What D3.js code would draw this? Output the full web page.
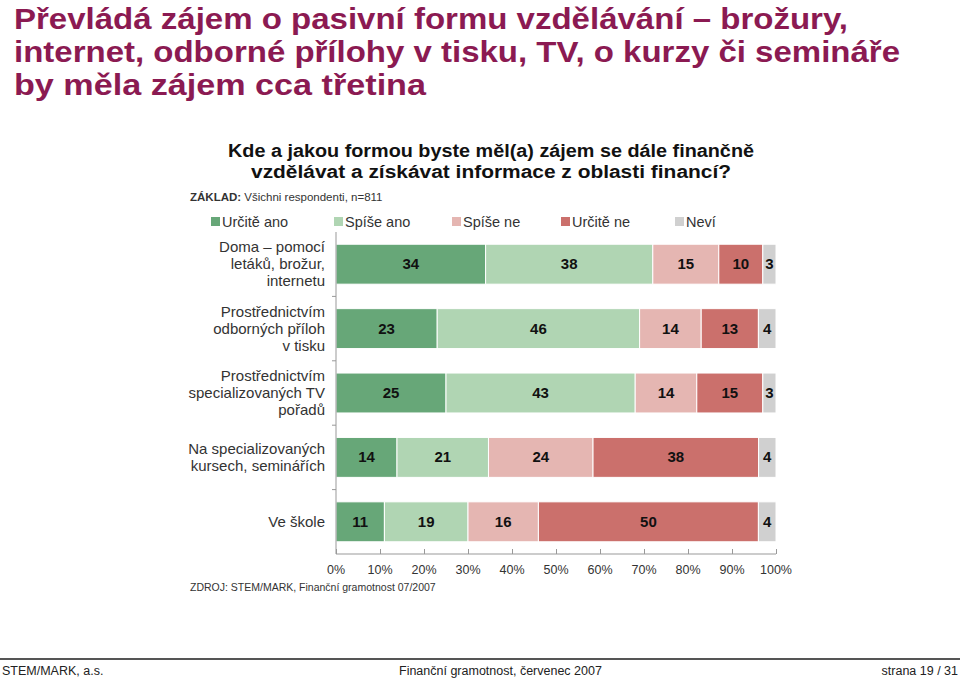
<!DOCTYPE html>
<html><head><meta charset="utf-8">
<script src="https://cdn.jsdelivr.net/npm/d3@7"></script>
<style>
html,body{margin:0;padding:0;background:#fff;}
svg{display:block;font-family:"Liberation Sans",Arial,sans-serif;}
</style></head>
<body>
<svg id="c" width="960" height="678"></svg>
<script>
const titleLines = ["Převládá zájem o pasivní formu vzdělávání – brožury,",
  "internet, odborné přílohy v tisku, TV, o kurzy či semináře",
  "by měla zájem cca třetina"];
const subtitleLines = ["Kde a jakou formou byste měl(a) zájem se dále finančně",
  "vzdělávat a získávat informace z oblasti financí?"];
const categories = [
  ["Doma – pomocí","letáků, brožur,","internetu"],
  ["Prostřednictvím","odborných příloh","v tisku"],
  ["Prostřednictvím","specializovaných TV","pořadů"],
  ["Na specializovaných","kursech, seminářích"],
  ["Ve škole"]
];
const seriesNames = ["Určitě ano","Spíše ano","Spíše ne","Určitě ne","Neví"];
const urciteAno = [34,23,25,14,11];
const spiseAno  = [38,46,43,21,19];
const spiseNe   = [15,14,14,24,16];
const urciteNe  = [10,13,15,38,50];
const nevi      = [3,4,3,4,4];
const colors = ["#67a778","#b0d5b3","#e5b6b2","#cb706c","#d0d0d0"];
const tickValues = [0,0.1,0.2,0.3,0.4,0.5,0.6,0.7,0.8,0.9,1];

const svg = d3.select("#c");
const catKeys = categories.map(c=>c.join(" "));
const rows = catKeys.map((k,i)=>({key:k,"Určitě ano":urciteAno[i],"Spíše ano":spiseAno[i],"Spíše ne":spiseNe[i],"Určitě ne":urciteNe[i],"Neví":nevi[i]}));
const stack = d3.stack().keys(seriesNames).offset(d3.stackOffsetExpand)(rows);

const x = d3.scaleLinear().domain([0,1]).range([336,776]);
const y = d3.scaleBand().domain(catKeys).range([232,554]).paddingInner(0.38).paddingOuter(0.19);
const color = d3.scaleOrdinal().domain(seriesNames).range(colors);

// Title
const titleW = [834, 886, 412];
svg.append("g").selectAll("text").data(titleLines).join("text")
  .attr("x",14).attr("y",(d,i)=>29+i*33)
  .attr("font-size",30).attr("font-weight","bold").attr("fill","#8b1a52")
  .attr("textLength",(d,i)=>titleW[i]).attr("lengthAdjust","spacingAndGlyphs")
  .text(d=>d);

// Subtitle
const subW = [526, 480];
svg.append("g").selectAll("text").data(subtitleLines).join("text")
  .attr("x",491).attr("y",(d,i)=>157+i*21).attr("text-anchor","middle")
  .attr("font-size",17.5).attr("font-weight","bold").attr("fill","#111")
  .attr("textLength",(d,i)=>subW[i]).attr("lengthAdjust","spacingAndGlyphs")
  .text(d=>d);

// Base
const base = svg.append("text").attr("x",190).attr("y",201).attr("font-size",11.5).attr("fill","#333");
base.append("tspan").attr("font-weight","bold").text("ZÁKLAD: ");
base.append("tspan").text("Všichni respondenti, n=811");

// Legend
const legX = [211,334,452,561,675];
const leg = svg.append("g").selectAll("g").data(seriesNames).join("g")
  .attr("transform",(d,i)=>`translate(${legX[i]},217)`);
leg.append("rect").attr("width",9).attr("height",9).attr("fill",d=>color(d));
leg.append("text").attr("x",11).attr("y",9.5).attr("font-size",14.5).attr("fill","#333").text(d=>d);

// Bars
const bars = svg.append("g");
bars.selectAll("g").data(stack).join("g").attr("fill",d=>color(d.key))
  .selectAll("rect").data(d=>d).join("rect")
  .attr("x",d=>x(d[0])).attr("width",d=>x(d[1])-x(d[0]))
  .attr("y",d=>y(d.data.key)).attr("height",y.bandwidth())
  .attr("stroke","#fff").attr("stroke-width",1);

// Value labels
const labels = [];
stack.forEach(s=>s.forEach(d=>labels.push({v:d.data[s.key],x0:d[0],x1:d[1],key:d.data.key})));
svg.append("g").selectAll("text").data(labels).join("text")
  .attr("x",d=>(x(d.x0)+x(d.x1))/2).attr("y",d=>y(d.key)+y.bandwidth()/2+5)
  .attr("text-anchor","middle").attr("font-size",15).attr("font-weight","bold").attr("fill","#111")
  .text(d=>d.v);

// Axes
const xAxis = d3.axisTop(x).tickValues(tickValues).tickSize(5).tickFormat("");
const gx = svg.append("g").attr("transform","translate(0,554)").call(xAxis);
gx.select(".domain").attr("stroke","#999").attr("d","M336,0H776");
gx.selectAll(".tick line").attr("stroke","#999");
svg.append("g").selectAll("text").data(tickValues).join("text")
  .attr("x",d=>x(d)).attr("y",574).attr("text-anchor","middle")
  .attr("font-size",12.5).attr("fill","#333").text(d=>d3.format(".0%")(d));

// Left axis
svg.append("line").attr("x1",336).attr("x2",336).attr("y1",232).attr("y2",554).attr("stroke","#999");
svg.append("g").selectAll("line").data(d3.range(1,catKeys.length)).join("line")
  .attr("x1",332).attr("x2",336)
  .attr("y1",i=>y(catKeys[i]) - y.step()*y.paddingInner()/2).attr("y2",i=>y(catKeys[i]) - y.step()*y.paddingInner()/2)
  .attr("stroke","#999");

// Category labels
const cg = svg.append("g").selectAll("text").data(categories).join("text")
  .attr("text-anchor","end").attr("font-size",15).attr("fill","#333");
cg.each(function(lines,i){
  const cy = y(catKeys[i]) + y.bandwidth()/2;
  d3.select(this).selectAll("tspan").data(lines).join("tspan")
    .attr("x",325).attr("y",(d,j)=>cy + 5 + (j-(lines.length-1)/2)*17).text(d=>d);
});

// Source
svg.append("text").attr("x",190).attr("y",591).attr("font-size",10.5).attr("fill","#333")
  .text("ZDROJ: STEM/MARK, Finanční gramotnost 07/2007");

// Footer
svg.append("line").attr("x1",0).attr("x2",960).attr("y1",659).attr("y2",659).attr("stroke","#555").attr("stroke-width",2);
svg.append("text").attr("x",2).attr("y",675).attr("font-size",12.5).attr("fill","#222").text("STEM/MARK, a.s.");
svg.append("text").attr("x",399).attr("y",675).attr("font-size",12.5).attr("fill","#222").text("Finanční gramotnost, červenec 2007");
svg.append("text").attr("x",958).attr("y",675).attr("text-anchor","end").attr("font-size",12.5).attr("fill","#222").text("strana 19 / 31");
</script>
</body></html>
